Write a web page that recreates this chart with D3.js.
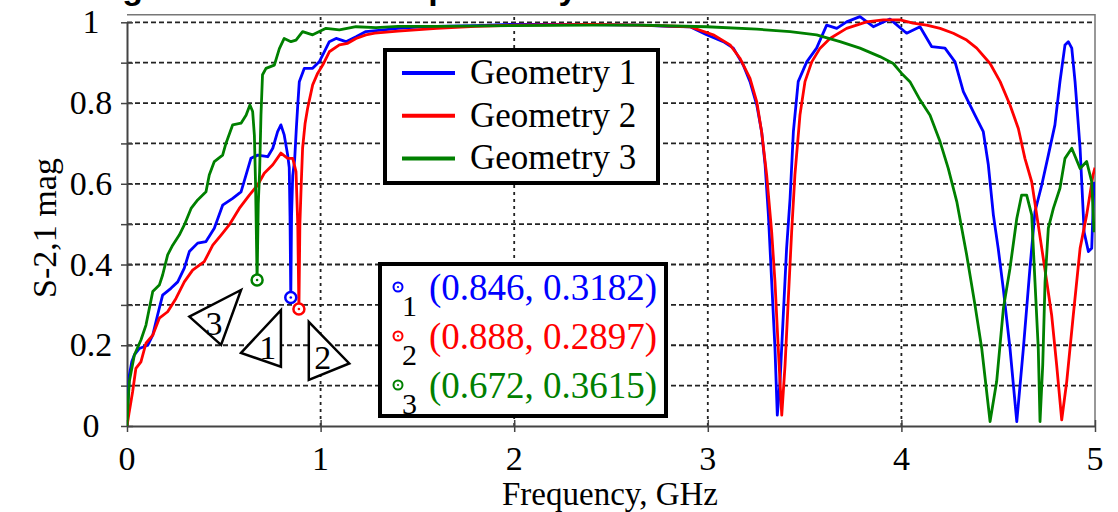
<!DOCTYPE html>
<meta charset="utf-8">
<head>
<style>
body { margin: 0; background: #fff; }
svg text { font-family: "Liberation Serif", "Times New Roman", Times, serif; fill: #000; }
svg text.title { font-family: "Liberation Sans", Arial, sans-serif; font-weight: bold; }
</style>
</head>
<body>
<div id="chart"></div>
<script src="https://d3js.org/d3.v7.min.js"></script>
<script>

// S-2,1 magnitude vs frequency (GHz)
var geometry1 = [[0,0],[0.005,0.06],[0.012,0.126],[0.025,0.16],[0.038,0.176],[0.064,0.192],[0.107,0.2],[0.133,0.225],[0.158,0.275],[0.184,0.324],[0.227,0.341],[0.262,0.357],[0.296,0.391],[0.322,0.432],[0.365,0.453],[0.408,0.457],[0.451,0.49],[0.494,0.547],[0.546,0.564],[0.589,0.58],[0.615,0.622],[0.64,0.663],[0.675,0.671],[0.727,0.667],[0.753,0.688],[0.778,0.729],[0.795,0.746],[0.812,0.721],[0.83,0.671],[0.838,0.64],[0.842,0.52],[0.846,0.3182],[0.85,0.52],[0.856,0.62],[0.866,0.66],[0.875,0.74],[0.882,0.795],[0.89,0.853],[0.916,0.886],[0.959,0.886],[0.993,0.902],[1.019,0.927],[1.045,0.952],[1.08,0.96],[1.131,0.952],[1.183,0.964],[1.234,0.977],[1.3,0.98],[1.4,0.985],[1.5,0.988],[1.6,0.99],[1.8,0.992],[2.0,0.995],[2.2,0.995],[2.4,0.994],[2.65,0.993],[2.8,0.99],[2.908,0.989],[2.994,0.969],[3.08,0.952],[3.132,0.936],[3.183,0.894],[3.218,0.853],[3.253,0.795],[3.278,0.729],[3.296,0.647],[3.313,0.523],[3.33,0.357],[3.347,0.192],[3.359,0.027],[3.373,0.11],[3.39,0.275],[3.407,0.44],[3.425,0.564],[3.442,0.729],[3.467,0.853],[3.511,0.902],[3.562,0.936],[3.614,0.993],[3.666,0.985],[3.717,1.001],[3.786,1.014],[3.855,0.989],[3.941,1.008],[4.027,0.973],[4.096,0.989],[4.156,0.94],[4.225,0.936],[4.277,0.902],[4.32,0.828],[4.38,0.77],[4.423,0.729],[4.449,0.647],[4.475,0.523],[4.5,0.44],[4.526,0.341],[4.561,0.192],[4.596,0.011],[4.63,0.192],[4.664,0.391],[4.69,0.531],[4.725,0.597],[4.759,0.671],[4.793,0.746],[4.819,0.853],[4.845,0.944],[4.862,0.952],[4.88,0.936],[4.897,0.853],[4.923,0.688],[4.944,0.48],[4.966,0.432],[4.983,0.44],[4.995,0.605]];

var geometry2 = [[0,0],[0.01,0.03],[0.029,0.085],[0.046,0.143],[0.072,0.159],[0.098,0.205],[0.133,0.225],[0.167,0.267],[0.21,0.283],[0.253,0.316],[0.296,0.357],[0.339,0.386],[0.399,0.407],[0.443,0.448],[0.486,0.473],[0.528,0.498],[0.58,0.539],[0.632,0.572],[0.675,0.597],[0.709,0.626],[0.753,0.647],[0.795,0.676],[0.83,0.663],[0.856,0.663],[0.873,0.63],[0.882,0.5],[0.888,0.2897],[0.893,0.5],[0.9,0.6],[0.907,0.688],[0.92,0.75],[0.933,0.787],[0.959,0.845],[0.985,0.874],[1.011,0.894],[1.045,0.927],[1.097,0.944],[1.14,0.948],[1.183,0.96],[1.234,0.969],[1.28,0.973],[1.4,0.978],[1.6,0.985],[1.8,0.99],[2.0,0.993],[2.4,0.995],[2.65,0.993],[2.908,0.989],[3.028,0.969],[3.115,0.944],[3.166,0.911],[3.218,0.861],[3.253,0.803],[3.278,0.729],[3.304,0.622],[3.33,0.48],[3.347,0.357],[3.364,0.192],[3.382,0.027],[3.399,0.151],[3.416,0.316],[3.433,0.48],[3.45,0.622],[3.476,0.77],[3.502,0.853],[3.537,0.902],[3.58,0.936],[3.631,0.96],[3.717,0.985],[3.82,1.001],[3.906,1.006],[3.993,1.006],[4.06,0.998],[4.13,0.993],[4.2,0.985],[4.268,0.973],[4.337,0.956],[4.389,0.936],[4.458,0.898],[4.51,0.853],[4.561,0.795],[4.604,0.737],[4.638,0.663],[4.673,0.605],[4.699,0.523],[4.725,0.44],[4.751,0.357],[4.776,0.275],[4.802,0.151],[4.828,0.015],[4.854,0.11],[4.888,0.275],[4.923,0.44],[4.957,0.523],[4.99,0.622],[5.0,0.64]];

var geometry3 = [[0,0],[0.006,0.06],[0.012,0.11],[0.038,0.176],[0.072,0.213],[0.098,0.25],[0.133,0.333],[0.167,0.349],[0.184,0.374],[0.21,0.424],[0.236,0.448],[0.27,0.473],[0.296,0.498],[0.331,0.539],[0.365,0.56],[0.408,0.58],[0.425,0.622],[0.451,0.655],[0.494,0.671],[0.511,0.70],[0.546,0.746],[0.589,0.75],[0.615,0.77],[0.635,0.795],[0.649,0.779],[0.658,0.72],[0.664,0.6],[0.672,0.3615],[0.678,0.55],[0.685,0.63],[0.692,0.77],[0.70,0.87],[0.718,0.886],[0.761,0.894],[0.787,0.935],[0.812,0.96],[0.847,0.952],[0.873,0.956],[0.907,0.977],[0.959,0.969],[1.028,0.985],[1.097,0.981],[1.183,0.989],[1.286,0.987],[1.4,0.99],[1.6,0.99],[2.0,0.992],[2.4,0.993],[2.65,0.993],[2.994,0.989],[3.253,0.983],[3.425,0.977],[3.562,0.969],[3.683,0.952],[3.786,0.936],[3.889,0.915],[3.958,0.898],[4.0,0.874],[4.044,0.853],[4.096,0.808],[4.148,0.77],[4.2,0.704],[4.242,0.638],[4.286,0.556],[4.337,0.424],[4.38,0.30],[4.415,0.192],[4.458,0.011],[4.492,0.11],[4.527,0.292],[4.561,0.391],[4.596,0.514],[4.621,0.572],[4.647,0.572],[4.673,0.523],[4.69,0.357],[4.707,0.192],[4.716,0.011],[4.73,0.151],[4.742,0.357],[4.759,0.49],[4.785,0.539],[4.819,0.589],[4.845,0.663],[4.88,0.688],[4.923,0.638],[4.957,0.655],[4.983,0.605],[4.995,0.48]];

var seriesNames = ["Geometry 1", "Geometry 2", "Geometry 3"];
var seriesColors = ["#0000ff", "#ff0000", "#008000"];

// markers placed on the dips
var markerIds = ["1", "2", "3"];
var markerFreq = [0.846, 0.888, 0.672];
var markerMag = [0.3182, 0.2897, 0.3615];

var xTickValues = [0, 1, 2, 3, 4, 5];
var yTickLabels = ["0", "0.2", "0.4", "0.6", "0.8", "1"];

var serif = "'Liberation Serif', 'Times New Roman', Times, serif";

var svg = d3.select("#chart").append("svg")
    .attr("width", 1118)
    .attr("height", 512)
    .attr("font-family", serif);

var x = d3.scaleLinear().domain([0, 5]).range([127, 1095]);
var y = d3.scaleLinear().domain([0, 1]).range([426, 22.3]);
var yTop = 1.0185;

function label(sel) {
  return sel.attr("font-family", serif).style("font-family", serif);
}

// title (cut off at the top, only descenders show)
svg.append("text")
    .attr("class", "title")
    .attr("x", 75)
    .attr("y", -1)
    .attr("font-family", "'Liberation Sans', Arial, sans-serif")
    .attr("font-weight", "bold")
    .style("font-size", "34px")
    .text("Magnitude of S21 Response by Variant");

svg.append("clipPath").attr("id", "plotclip")
  .append("rect")
    .attr("x", x(0)).attr("y", y(yTop))
    .attr("width", x(5) - x(0)).attr("height", y(0) - y(yTop));

// grid
var grid = svg.append("g");
grid.selectAll(".hg")
  .data(d3.range(1, 11).map(function(d) { return d / 10; }))
  .enter().append("line")
    .attr("x1", x(0)).attr("x2", x(5))
    .attr("y1", function(d) { return y(d); })
    .attr("y2", function(d) { return y(d); })
    .attr("stroke", "#222")
    .attr("stroke-width", 1.8)
    .attr("stroke-dasharray", "5,3");
grid.selectAll(".vg")
  .data([1, 2, 3, 4])
  .enter().append("line")
    .attr("x1", function(d) { return x(d); })
    .attr("x2", function(d) { return x(d); })
    .attr("y1", y(0)).attr("y2", y(yTop))
    .attr("stroke", "#222")
    .attr("stroke-width", 1.8)
    .attr("stroke-dasharray", "3,4");

// frame top/right
svg.append("path")
    .attr("d", "M" + x(0) + "," + y(yTop) + "H" + x(5) + "V" + y(0))
    .attr("fill", "none")
    .attr("stroke", "#777")
    .attr("stroke-width", 1.5);

// axes
var yAxis = d3.axisLeft(y)
    .tickValues(d3.range(0, 11).map(function(d) { return d / 10; }))
    .tickSizeInner(-6).tickSizeOuter(0).tickFormat("");
var yg = svg.append("g").attr("transform", "translate(" + x(0) + ",0)").call(yAxis);
yg.selectAll(".tick line").attr("x1", 6).attr("x2", -6);
var xAxis = d3.axisBottom(x)
    .tickValues(xTickValues)
    .tickSizeOuter(0).tickFormat("");
var xg = svg.append("g").attr("transform", "translate(0," + y(0) + ")").call(xAxis);
xg.selectAll(".tick line").attr("y1", -6).attr("y2", 6);
svg.selectAll(".domain").attr("stroke", "#444").attr("stroke-width", 2);
svg.selectAll(".tick line").attr("stroke", "#444").attr("stroke-width", 1.5);

// tick labels
svg.selectAll(".ylab")
  .data(yTickLabels)
  .enter().append("text")
    .attr("x", 91)
    .attr("y", function(d) { return y(+d) + 11; })
    .attr("text-anchor", "middle")
    .style("font-size", "34px")
    .call(label)
    .text(function(d) { return d; });
svg.selectAll(".xlab")
  .data(xTickValues)
  .enter().append("text")
    .attr("x", function(d) { return x(d); })
    .attr("y", 470)
    .attr("text-anchor", "middle")
    .style("font-size", "34px")
    .call(label)
    .text(function(d) { return d; });

svg.append("text")
    .attr("transform", "translate(56,228) rotate(-90)")
    .attr("text-anchor", "middle")
    .style("font-size", "34px")
    .call(label)
    .text("S-2,1 mag");
svg.append("text")
    .attr("x", 610)
    .attr("y", 505)
    .attr("text-anchor", "middle")
    .style("font-size", "33px")
    .call(label)
    .text("Frequency, GHz");

// curves
var line = d3.line()
    .x(function(d) { return x(d[0]); })
    .y(function(d) { return y(d[1]); });
var curves = svg.append("g").attr("clip-path", "url(#plotclip)");
[geometry1, geometry2, geometry3].forEach(function(s, i) {
  curves.append("path")
      .datum(s)
      .attr("d", line)
      .attr("fill", "none")
      .attr("stroke", seriesColors[i])
      .attr("stroke-width", 2.8)
      .attr("stroke-linejoin", "round");
});

// dip markers
markerIds.forEach(function(id, i) {
  var g = svg.append("g")
      .attr("transform", "translate(" + x(markerFreq[i]) + "," + y(markerMag[i]) + ")");
  g.append("circle").attr("r", 5.5).attr("fill", "#fff")
      .attr("stroke", seriesColors[i]).attr("stroke-width", 2.5);
  g.append("circle").attr("r", 1.3).attr("fill", seriesColors[i]);
});

// series legend
var leg = svg.append("g");
leg.append("rect")
    .attr("x", 385).attr("y", 50).attr("width", 273).attr("height", 133)
    .attr("fill", "#fff").attr("stroke", "#000").attr("stroke-width", 4);
seriesNames.forEach(function(n, i) {
  var ly = 73 + i * 42.7;
  leg.append("line")
      .attr("x1", 402).attr("x2", 455).attr("y1", ly).attr("y2", ly)
      .attr("stroke", seriesColors[i]).attr("stroke-width", 4);
  leg.append("text")
      .attr("x", 470).attr("y", ly + 11)
      .style("font-size", "35px")
      .call(label)
      .text(n);
});

// marker readout box
var mb = svg.append("g");
mb.append("rect")
    .attr("x", 380).attr("y", 264).attr("width", 286).attr("height", 152)
    .attr("fill", "#fff").attr("stroke", "#000").attr("stroke-width", 4);
markerIds.forEach(function(id, i) {
  var by = 300 + i * 49;
  mb.append("circle").attr("cx", 398).attr("cy", by - 13).attr("r", 4.5)
      .attr("fill", "#fff").attr("stroke", seriesColors[i]).attr("stroke-width", 2);
  mb.append("circle").attr("cx", 398).attr("cy", by - 13).attr("r", 1.1)
      .attr("fill", seriesColors[i]);
  mb.append("text")
      .attr("x", 402).attr("y", by + 16)
      .style("font-size", "30px")
      .call(label)
      .text(id);
  mb.append("text")
      .attr("x", 429).attr("y", by)
      .style("font-size", "37px")
      .style("fill", seriesColors[i])
      .call(label)
      .text("(" + markerFreq[i].toFixed(3) + ", " + markerMag[i].toFixed(4) + ")");
});

// triangle callouts, in data units
var callouts = [
  {id: "3", pts: [[0.322, 0.271], [0.589, 0.337], [0.486, 0.201]], at: [0.449, 0.255]},
  {id: "1", pts: [[0.589, 0.181], [0.795, 0.287], [0.795, 0.147]], at: [0.727, 0.196]},
  {id: "2", pts: [[0.939, 0.258], [1.148, 0.155], [0.939, 0.114]], at: [1.011, 0.172]}
];
callouts.forEach(function(c) {
  svg.append("polygon")
      .attr("points", c.pts.map(function(p) { return x(p[0]) + "," + y(p[1]); }).join(" "))
      .attr("fill", "#fff").attr("stroke", "#000").attr("stroke-width", 2.5)
      .attr("stroke-linejoin", "miter");
  svg.append("text")
      .attr("x", x(c.at[0])).attr("y", y(c.at[1]) + 12)
      .attr("text-anchor", "middle")
      .style("font-size", "34px")
      .call(label)
      .text(c.id);
});

</script>
</body>
</html>
